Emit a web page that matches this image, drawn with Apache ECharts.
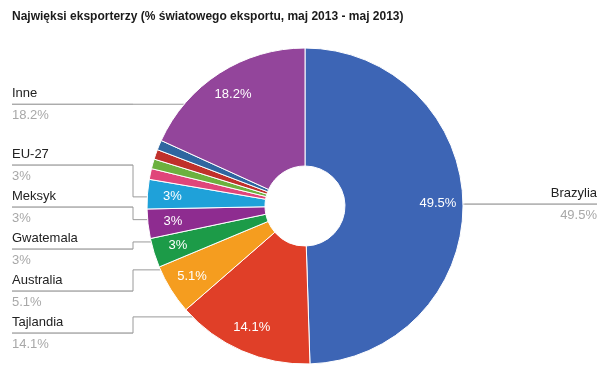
<!DOCTYPE html>
<html><head><meta charset="utf-8">
<script src="https://cdn.jsdelivr.net/npm/echarts/dist/echarts.min.js"></script>
<style>html,body{margin:0;padding:0;background:#fff}#c{width:600px;height:378px}</style>
</head><body><div id="c"></div>
<script>
// ---- data ----
const titleText = 'Najwięksi eksporterzy (% światowego eksportu, maj 2013 - maj 2013)';
const categories = ['Brazylia','Tajlandia','Australia','Gwatemala','Meksyk','EU-27','Pozostały 1','Pozostały 2','Pozostały 3','Pozostały 4','Inne'];
const values = [49.5, 14.1, 5.1, 3, 3, 3, 1.1, 1.0, 1.0, 1.0, 18.2];
const labeled = [true, true, true, true, true, true, false, false, false, false, true];
const colors = ['#3d65b5','#e03f28','#f59d1f','#1c9b48','#8e2c90','#1fa1d9','#e0457a','#6cb13e','#c0302b','#2f66a0','#93459b'];

// ---- layout ----
const CX = 305, CY = 206, R0 = 40, R = 158, LR = 130, LT = 121;
const FONT = "'Liberation Sans', Arial, sans-serif";
const LEFT_X = 12, ELBOW = 133, RIGHT_X = 597, SPACING = 42;

const total = values.reduce((a, b) => a + b, 0);
const mids = []; let acc = 0;
values.forEach(v => { mids.push((acc + v / 2) / total * 2 * Math.PI); acc += v; });
const targetY = mids.map(a => CY - LT * Math.cos(a));
const isRight = mids.map(a => a < Math.PI);

function pack(idxs) {
  idxs.sort((a, b) => targetY[a] - targetY[b]);
  let groups = idxs.map(i => ({ items: [i], center: targetY[i] }));
  let merged = true;
  while (merged) {
    merged = false;
    for (let g = 0; g < groups.length - 1; g++) {
      const A = groups[g], B = groups[g + 1];
      const aBottom = A.center + (A.items.length - 1) * SPACING / 2;
      const bTop = B.center - (B.items.length - 1) * SPACING / 2;
      if (bTop - aBottom < SPACING) {
        const items = A.items.concat(B.items);
        const center = items.reduce((s, i) => s + targetY[i], 0) / items.length;
        groups.splice(g, 2, { items, center }); merged = true; break;
      }
    }
  }
  const pos = {};
  groups.forEach(G => G.items.forEach((i, k) => { pos[i] = G.center + (k - (G.items.length - 1) / 2) * SPACING; }));
  return pos;
}
const leftIdx = [], rightIdx = [];
values.forEach((v, i) => { if (labeled[i]) (isRight[i] ? rightIdx : leftIdx).push(i); });
const labelY = Object.assign({}, pack(leftIdx), pack(rightIdx));

function edgeX(y, right) {
  const d = Math.sqrt(Math.max(0, R * R - (y - CY) * (y - CY)));
  return right ? CX + d : CX - d;
}

const outerData = categories.map((name, i) => ({
  name, value: values[i],
  itemStyle: { color: colors[i] },
  label: labeled[i] ? {
    show: true,
    formatter: isRight[i] ? '{nr|' + name + '}\n{hr|}\n{v|' + values[i] + '%}' : '{n|' + name + '}\n{hr|}\n{v|' + values[i] + '%}'
  } : { show: false },
  labelLine: { show: labeled[i] }
}));

const innerData = categories.map((name, i) => ({
  name, value: values[i],
  label: { show: labeled[i] }
}));

const chart = echarts.init(document.getElementById('c'), null, { renderer: 'canvas' });
chart.setOption({
  animation: false,
  backgroundColor: '#fff',
  title: {
    text: titleText, left: 12, top: 11, padding: 0,
    textStyle: { fontFamily: FONT, fontSize: 12, fontWeight: 'bold', color: '#1a1a1a' }
  },
  series: [
    {
      type: 'pie', center: [CX, CY], radius: [R0, R], startAngle: 90, clockwise: true,
      avoidLabelOverlap: false, emphasis: { disabled: true },
      itemStyle: { borderColor: '#fff', borderWidth: 1 },
      label: {
        position: 'outside', fontFamily: FONT,
        rich: {
          n: { fontFamily: FONT, fontSize: 13, color: '#222', width: ELBOW - LEFT_X, lineHeight: 22 },
          nr: { fontFamily: FONT, fontSize: 13, color: '#222', width: 132, align: 'right', lineHeight: 22 },
          hr: { width: '100%', height: 0, lineHeight: 0, borderColor: '#9a9a9a', borderWidth: 0.8 },
          v: { fontFamily: FONT, fontSize: 13, color: '#a8a8a8', lineHeight: 22 }
        }
      },
      labelLine: { show: true, lineStyle: { color: '#9a9a9a', width: 1 } },
      labelLayout: function (p) {
        const i = p.dataIndex;
        if (!labeled[i]) return {};
        const y = labelY[i];
        const ty = targetY[i];
        if (isRight[i]) {
          return { x: RIGHT_X, y: y, align: 'right', verticalAlign: 'middle',
            labelLinePoints: [[edgeX(y, true), y], [RIGHT_X - 132, y]] };
        }
        return { x: LEFT_X, y: y, align: 'left', verticalAlign: 'middle',
          labelLinePoints: [[ELBOW, y], [ELBOW, ty], [edgeX(ty, false), ty]] };
      },
      data: outerData
    },
    {
      type: 'pie', center: [CX, CY], radius: [2 * LR - R, R], startAngle: 90, clockwise: true,
      silent: true, emphasis: { disabled: true },
      itemStyle: { color: 'rgba(0,0,0,0)' },
      label: { position: 'inside', formatter: '{c}%', color: '#fff', fontFamily: FONT, fontSize: 13 },
      labelLine: { show: false },
      data: innerData
    }
  ]
});
</script>
</body></html>
